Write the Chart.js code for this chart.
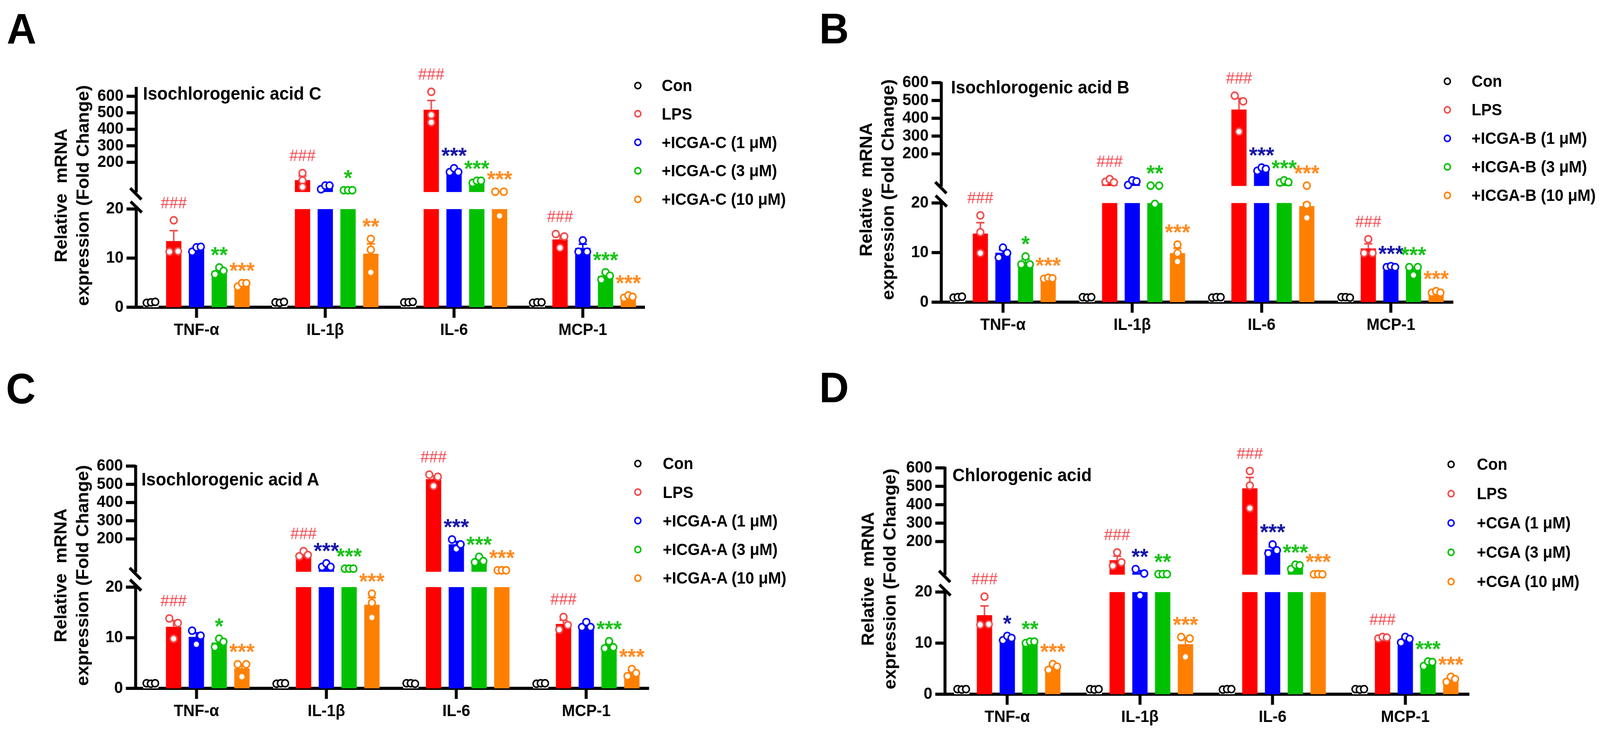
<!DOCTYPE html>
<html>
<head>
<meta charset="utf-8">
<title>Relative mRNA expression</title>
<script src="https://cdn.jsdelivr.net/npm/chart.js@4.4.1/dist/chart.umd.min.js"></script>
<style>
  html, body { margin: 0; padding: 0; background: #fff; overflow: hidden; }
  #page { position: absolute; left: 0; top: 0; width: 4287px; height: 1865px; transform-origin: 0 0;
          font-family: "Liberation Sans", Arial, sans-serif; color: #000; background: #fff; }
  canvas { position: absolute; }
  .lbl { position: absolute; white-space: pre; line-height: 1; font-weight: bold; z-index: 2; }
  .dot { position: absolute; box-sizing: border-box; width: 20px; height: 20px; border: 4px solid;
         border-radius: 50%; background: #fff; z-index: 2; }
  .ytitle { position: absolute; width: 800px; line-height: 59px; font-size: 46px; font-weight: bold;
            text-align: center; white-space: pre; transform: rotate(-90deg); z-index: 2; }
</style>
</head>
<body>
<div id="page"></div>
<script>
const FONT = '"Liberation Sans", Arial, sans-serif';

const categories = ['TNF-α', 'IL-1β', 'IL-6', 'MCP-1'];
const categoryTicks = [0, 1, 2, 3];
const upperTicks = [200, 300, 400, 500, 600];
const lowerTicks = [0, 10, 20];
const breakAt = 20;

// three replicates per bar; rows = categories, columns = Con, LPS, 1 μM, 3 μM, 10 μM
const repsA = [
  [[0.9, 1.0, 1.1], [11.3, 17.7, 11.4], [11.3, 12.2, 12.3], [6.7, 8.1, 7.4], [4.2, 4.9, 4.9]],
  [[1.0, 0.9, 1.1], [90, 135, 51], [37, 59, 59], [31, 31, 31], [7.1, 13.9, 11.7]],
  [[1.0, 1.0, 1.1], [487, 627, 442], [141, 164, 141], [75, 88, 88], [22, 18.6, 22]],
  [[0.9, 1.0, 1.0], [14.9, 12.1, 14.4], [11.3, 13.6, 11.3], [5.6, 7.1, 6.4], [1.9, 2.4, 2.1]]
];
const repsB = [
  [[0.9, 1.0, 1.1], [14.1, 17.5, 9.9], [9.0, 11.0, 9.9], [7.6, 9.2, 7.6], [4.7, 4.9, 4.8]],
  [[1.0, 0.9, 1.0], [43, 58, 40], [25, 51, 45], [21.6, 19.8, 21.6], [9.9, 11.6, 8.2]],
  [[0.9, 1.0, 1.0], [527, 325, 495], [105, 123, 115], [39, 51, 41], [19.6, 21.5, 17.0]],
  [[1.0, 1.0, 0.9], [9.9, 12.7, 9.9], [7.05, 7.25, 7.05], [7.05, 5.45, 7.05], [1.9, 2.2, 1.9]]
];
const repsC = [
  [[1.0, 0.9, 1.0], [13.8, 9.8, 12.9], [11.4, 8.7, 10.4], [8.15, 9.8, 9.2], [4.75, 2.3, 4.75]],
  [[0.9, 1.0, 1.0], [105, 133, 112], [47, 66, 47], [37, 37, 37], [18.7, 16.9, 14.0]],
  [[1.0, 1.0, 0.9], [553, 491, 541], [197, 146, 170], [72, 102, 78.5], [28, 28, 28]],
  [[0.9, 1.0, 1.0], [11.6, 14.1, 12.5], [12.1, 13.1, 12.1], [7.9, 9.3, 8.1], [2.4, 3.8, 3.0]]
];
const repsD = [
  [[1.0, 0.9, 1.0], [13.6, 19.1, 13.7], [10.55, 11.4, 11.0], [10.0, 10.3, 10.3], [4.75, 5.9, 5.4]],
  [[1.0, 0.9, 1.0], [68, 141, 87], [50, 19.3, 26.5], [23, 23, 23], [11.2, 7.3, 10.9]],
  [[0.9, 1.0, 1.0], [583, 504, 381], [135.5, 184, 152], [50, 74, 71], [22, 23, 22]],
  [[1.0, 0.9, 1.0], [10.9, 11.2, 11.1], [10.1, 11.2, 10.8], [5.5, 6.4, 6.3], [2.4, 3.4, 2.95]]
];

const sigA = [['', '###', '', '**', '***'], ['', '###', '', '*', '**'],
              ['', '###', '***', '***', '***'], ['', '###', '', '***', '***']];
const sigB = [['', '###', '', '*', '***'], ['', '###', '', '**', '***'],
              ['', '###', '***', '***', '***'], ['', '###', '***', '***', '***']];
const sigC = [['', '###', '', '*', '***'], ['', '###', '***', '***', '***'],
              ['', '###', '***', '***', '***'], ['', '###', '', '***', '***']];
const sigD = [['', '###', '*', '**', '***'], ['', '###', '**', '**', '***'],
              ['', '###', '***', '***', '***'], ['', '###', '', '***', '***']];

const legendA = ['Con', 'LPS', '+ICGA-C (1 μM)', '+ICGA-C (3 μM)', '+ICGA-C (10 μM)'];
const legendB = ['Con', 'LPS', '+ICGA-B (1 μM)', '+ICGA-B (3 μM)', '+ICGA-B (10 μM)'];
const legendC = ['Con', 'LPS', '+ICGA-A (1 μM)', '+ICGA-A (3 μM)', '+ICGA-A (10 μM)'];
const legendD = ['Con', 'LPS', '+CGA (1 μM)', '+CGA (3 μM)', '+CGA (10 μM)'];

const titles = ['Isochlorogenic acid C', 'Isochlorogenic acid B', 'Isochlorogenic acid A', 'Chlorogenic acid'];
const letters = ['A', 'B', 'C', 'D'];
const yMax = [657, 605, 605.5, 606];
const yTitleLines = ['Relative  mRNA', 'expression (Fold Change)'];

const barColors = ['#ffffff', '#ff0000', '#0000ff', '#00c000', '#ff8000'];
const dotColors = ['#000000', '#f24a4a', '#0000ff', '#00c000', '#ff8000'];
const sigColors = ['#000000', '#f0464e', '#1515a8', '#19c219', '#ff8a1f'];

// page geometry of each panel (pixels)
const layouts = [
  { left: 353.5, axisX: 365, right: 1733.5, top: 214, bottom: 786, upper: 273, gap: 44, lower: 255, catPct: 0.884,
    letter: [18, 111], title: [383, 255], legend: [1709, 1773, 218.5, 72.8], yTitle: [192.5, 500] },
  { left: 2513.7, axisX: 2522, right: 3900, top: 198, bottom: 772.5, upper: 271.5, gap: 44.5, lower: 258.5, catPct: 0.874,
    letter: [2195, 111], title: [2548, 239], legend: [3878, 3943, 207.6, 73.1], yTitle: [2350, 485] },
  { left: 351.9, axisX: 363.4, right: 1744.8, top: 1182, bottom: 1761, upper: 276.7, gap: 39.8, lower: 262.5, catPct: 0.876,
    letter: [16, 1032], title: [379, 1242], legend: [1709, 1776, 1186, 73.2], yTitle: [191.5, 1471.5] },
  { left: 2520.9, axisX: 2532, right: 3942.9, top: 1186, bottom: 1775.7, upper: 279.8, gap: 45, lower: 265, catPct: 0.858,
    letter: [2195, 1029], title: [2552, 1231], legend: [3888, 3957, 1187.5, 75.1], yTitle: [2354.5, 1481] }
];

const panels = [
  { reps: repsA, sig: sigA, legend: legendA },
  { reps: repsB, sig: sigB, legend: legendB },
  { reps: repsC, sig: sigC, legend: legendC },
  { reps: repsD, sig: sigD, legend: legendD }
];

// stretch the 4287 x 1865 drawing over whatever viewport we get
const page = document.getElementById('page');
const sx = window.innerWidth / 4287, sy = window.innerHeight / 1865;
page.style.transform = 'scale(' + sx + ',' + sy + ')';
document.body.style.width = window.innerWidth + 'px';
document.body.style.height = window.innerHeight + 'px';

const mean = a => a.reduce((s, v) => s + v, 0) / a.length;
const sem = a => {
  const m = mean(a);
  return Math.sqrt(a.reduce((s, v) => s + (v - m) ** 2, 0) / (a.length - 1)) / Math.sqrt(a.length);
};

function addLabel(text, left, baseline, size) {
  const d = document.createElement('div');
  d.className = 'lbl';
  d.textContent = text;
  d.style.fontSize = size + 'px';
  d.style.left = left + 'px';
  d.style.top = (baseline - 0.8465 * size) + 'px';
  page.appendChild(d);
}

function drawPanel(p, idx) {
  const b = layouts[idx];
  const top = yMax[idx];
  const yW = 120, xH = 110, padTop = 40, padRight = 20;
  const cx = Math.round(b.left - yW), cy = Math.round(b.top - padTop);
  const cw = Math.round(b.right + padRight - cx), ch = Math.round(b.bottom + xH - cy);
  const cv = document.createElement('canvas');
  cv.width = cw; cv.height = ch;
  cv.style.left = cx + 'px'; cv.style.top = cy + 'px';
  cv.style.width = cw + 'px'; cv.style.height = ch + 'px';
  page.appendChild(cv);

  const shift = b.axisX - (cx + yW);
  const hiMin = breakAt - b.gap * (top - breakAt) / b.upper;
  const slot = b.catPct / 5;
  const barPct = 0.672;
  const off = g => (g - 2) * slot;
  const nudge = 0.28 * slot * barPct;

  // rough pixel height of a value, only used to decide which replicates overlap and get spread sideways
  const yPx = v => v <= breakAt ? v * b.lower / breakAt
                                : b.lower + b.gap + (v - breakAt) * b.upper / (top - breakAt);
  function spread(vals) {
    const order = vals.map((v, k) => k).sort((a, c) => vals[a] - vals[c]);
    const clusters = [[order[0]]];
    for (let n = 1; n < order.length; n++) {
      if (yPx(vals[order[n]]) - yPx(vals[order[n - 1]]) < 16) clusters[clusters.length - 1].push(order[n]);
      else clusters.push([order[n]]);
    }
    const res = [];
    clusters.forEach(cl => {
      const members = cl.slice().sort((a, c) => a - c);
      const pattern = members.length === 1 ? [0] : members.length === 2 ? [-1, 1] : [-1, 0, 1];
      members.forEach((k, j) => { res[k] = pattern[j]; });
    });
    return res;
  }

  const datasets = [];
  for (let g = 0; g < 5; g++) {
    const means = categories.map((c, i) => mean(p.reps[i][g]));
    datasets.push({ type: 'bar', label: p.legend[g], yAxisID: 'yLow', order: 2, grouped: false,
      data: means.map((m, i) => ({ x: i + off(g), y: Math.min(m, breakAt) })),
      backgroundColor: barColors[g], barPercentage: barPct, categoryPercentage: 1 });
    datasets.push({ type: 'bar', label: p.legend[g], yAxisID: 'yHigh', order: 2, grouped: false,
      data: means.map((m, i) => ({ x: i + off(g), y: m > breakAt ? [breakAt, m] : null })),
      backgroundColor: barColors[g], barPercentage: barPct, categoryPercentage: 1 });
  }
  for (let g = 0; g < 5; g++) {
    const lowPts = [], highPts = [];
    p.reps.forEach((row, i) => {
      const sp = spread(row[g]);
      row[g].forEach((v, k) => {
        const pt = { x: i + off(g) + sp[k] * nudge, y: v };
        (v > breakAt ? highPts : lowPts).push(pt);
      });
    });
    [[lowPts, 'yLow'], [highPts, 'yHigh']].forEach(([pts, axis]) => {
      datasets.push({ type: 'scatter', label: p.legend[g], data: pts, yAxisID: axis, order: 1,
        pointRadius: 9, pointBorderWidth: 4, pointBackgroundColor: '#ffffff',
        pointBorderColor: dotColors[g], showLine: false, clip: false });
    });
  }

  const tickFont = { family: FONT, size: 42, weight: 'bold' };
  const deco = {
    id: 'deco' + idx,
    beforeDatasetsDraw(chart) {
      const { ctx, chartArea: ca, scales } = chart;
      const lo = scales.yLow, hi = scales.yHigh, xs = scales.x;
      const ax = ca.left + shift;
      const seg = (x1, y1, x2, y2) => { ctx.beginPath(); ctx.moveTo(x1, y1); ctx.lineTo(x2, y2); ctx.stroke(); };
      ctx.save();
      ctx.strokeStyle = '#000'; ctx.lineWidth = 8; ctx.lineCap = 'butt';
      const loTop = lo.getPixelForValue(breakAt), hiBot = hi.getPixelForValue(breakAt);
      seg(ax - 26, ca.bottom, ca.right - 6, ca.bottom);
      seg(ax, ca.bottom, ax, loTop - 3);
      seg(ax, ca.top, ax, hiBot + 1);
      lowerTicks.forEach(v => { const y = lo.getPixelForValue(v); seg(ax - 26, y, ax, y); });
      upperTicks.forEach(v => { const y = hi.getPixelForValue(v); seg(ax - 26, y, ax, y); });
      seg(ax - 16, hiBot - 10, ax + 14, hiBot + 19);
      seg(ax - 15, loTop - 19, ax + 15, loTop + 9);
      // error bars (mean + SEM)
      ctx.lineWidth = 4;
      p.reps.forEach((row, i) => row.forEach((vals, g) => {
        if (g === 0) return;
        const m = mean(vals);
        const sc = m > breakAt ? hi : lo;
        const t = sc === lo ? Math.min(m + sem(vals), breakAt) : m + sem(vals);
        const x = xs.getPixelForValue(i + off(g));
        const y0 = sc.getPixelForValue(m), y1 = sc.getPixelForValue(t);
        ctx.strokeStyle = dotColors[g];
        seg(x, y0, x, y1);
        seg(x - 11, y1, x + 11, y1);
      }));
      ctx.restore();
    },
    afterDatasetsDraw(chart) {
      const { ctx, scales } = chart;
      const lo = scales.yLow, hi = scales.yHigh, xs = scales.x;
      ctx.save();
      ctx.textAlign = 'center'; ctx.textBaseline = 'alphabetic';
      p.sig.forEach((row, i) => row.forEach((s, g) => {
        if (!s) return;
        const vals = p.reps[i][g];
        const tv = Math.max(...vals, mean(vals) + sem(vals));
        const y = tv > breakAt ? hi.getPixelForValue(tv) : lo.getPixelForValue(tv);
        const x = xs.getPixelForValue(i + off(g));
        const hash = s[0] === '#';
        ctx.font = hash ? '42px ' + FONT : 'bold 58px ' + FONT;
        ctx.fillStyle = sigColors[g];
        ctx.fillText(s, x, hash ? y - 31 : y - 12);
      }));
      ctx.restore();
    }
  };

  new Chart(cv.getContext('2d'), {
    type: 'bar',
    data: { datasets },
    options: {
      responsive: false, maintainAspectRatio: false, animation: false, devicePixelRatio: 1, events: [],
      layout: { padding: { top: padTop, right: padRight, left: 0, bottom: 0 } },
      plugins: { legend: { display: false }, tooltip: { enabled: false }, title: { display: false } },
      scales: {
        x: { type: 'linear', position: 'bottom', min: -0.5, max: 3.5, bounds: 'data', offset: false,
          grid: { display: true, offset: false, drawOnChartArea: false, drawTicks: true,
                  tickLength: 27, tickWidth: 8, tickColor: '#000', color: '#000' },
          border: { display: false },
          ticks: { color: '#000', font: tickFont, padding: 7, maxRotation: 0, autoSkip: false,
                   callback: v => categories[v] },
          afterBuildTicks: s => { s.ticks = categoryTicks.map(v => ({ value: v })); },
          afterFit: s => { s.height = xH; } },
        yLow: { type: 'linear', position: 'left', stack: 'y', stackWeight: b.lower, weight: 1,
          min: 0, max: breakAt, bounds: 'data', stacked: false,
          grid: { display: false, drawTicks: false }, border: { display: false },
          ticks: { color: '#000', font: tickFont, padding: 34 - shift, autoSkip: false },
          afterBuildTicks: s => { s.ticks = lowerTicks.map(v => ({ value: v })); },
          afterFit: s => { s.width = yW; } },
        yHigh: { type: 'linear', position: 'left', stack: 'y', stackWeight: b.upper + b.gap, weight: 2,
          min: hiMin, max: top, bounds: 'data', stacked: false,
          grid: { display: false, drawTicks: false }, border: { display: false },
          ticks: { color: '#000', font: tickFont, padding: 34 - shift, autoSkip: false },
          afterBuildTicks: s => { s.ticks = upperTicks.map(v => ({ value: v })); },
          afterFit: s => { s.width = yW; } }
      }
    },
    plugins: [deco]
  });

  // panel letter, title, axis title, legend
  addLabel(letters[idx], b.letter[0], b.letter[1], 110);
  addLabel(titles[idx], b.title[0], b.title[1], 46);
  const yt = document.createElement('div');
  yt.className = 'ytitle';
  yTitleLines.forEach(t => { const l = document.createElement('div'); l.textContent = t; yt.appendChild(l); });
  yt.style.left = (b.yTitle[0] - 400) + 'px';
  yt.style.top = (b.yTitle[1] - 59) + 'px';
  page.appendChild(yt);
  p.legend.forEach((name, g) => {
    const ry = b.legend[2] + g * b.legend[3];
    const d = document.createElement('div');
    d.className = 'dot';
    d.style.borderColor = dotColors[g];
    d.style.left = (b.legend[0] - 10) + 'px';
    d.style.top = (ry - 10) + 'px';
    page.appendChild(d);
    addLabel(name, b.legend[1], ry + 15, 42);
  });
}

panels.forEach(drawPanel);
</script>
</body>
</html>
